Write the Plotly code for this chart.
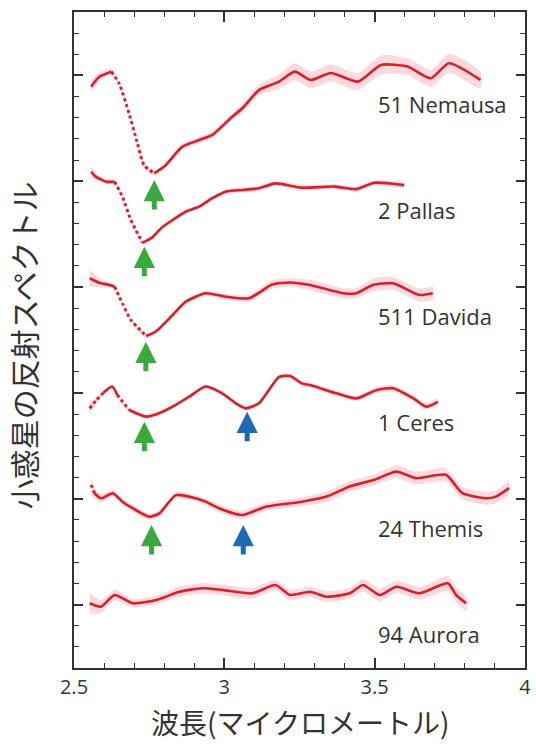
import plotly.graph_objects as go

# ---------------- data (wavelength in micrometres, relative reflectance) ----------------
names = ["51 Nemausa", "2 Pallas", "511 Davida", "1 Ceres", "24 Themis", "94 Aurora"]
offsets = [2.5, 2.0, 1.5, 1.0, 0.5, 0.0]

nemausa_x = [2.557, 2.584, 2.624, 2.65, 2.683, 2.711, 2.733, 2.767, 2.805, 2.838, 2.861, 2.916, 2.96,
             3.026, 3.06, 3.115, 3.182, 3.234, 3.288, 3.354, 3.444, 3.521, 3.609, 3.687, 3.747, 3.852]
nemausa_r = [0.947, 0.994, 1.018, 0.963, 0.821, 0.679, 0.576, 0.538, 0.576, 0.631, 0.664, 0.695, 0.719,
             0.805, 0.845, 0.931, 0.971, 1.018, 0.979, 1.012, 0.971, 1.05, 1.042, 0.987, 1.058, 0.979]
nemausa_e = [0.03, 0.02, 0.015, 0.012, 0.012, 0.012, 0.012, 0.012, 0.012, 0.015, 0.015, 0.015, 0.015,
             0.015, 0.02, 0.025, 0.035, 0.04, 0.04, 0.04, 0.04, 0.045, 0.04, 0.04, 0.045, 0.04]

pallas_x = [2.557, 2.572, 2.607, 2.635, 2.661, 2.689, 2.728, 2.761, 2.794, 2.828, 2.871, 2.916, 2.96,
            3.004, 3.06, 3.115, 3.17, 3.258, 3.366, 3.438, 3.499, 3.598]
pallas_r = [1.045, 1.022, 0.998, 0.998, 0.927, 0.817, 0.71, 0.736, 0.784, 0.817, 0.856, 0.88, 0.92,
            0.951, 0.959, 0.967, 0.99, 0.97, 0.975, 0.963, 0.993, 0.982]
pallas_e = [0.03, 0.015, 0.012, 0.01, 0.01, 0.01, 0.01, 0.01, 0.01, 0.01, 0.01, 0.01, 0.01,
            0.01, 0.012, 0.012, 0.012, 0.012, 0.012, 0.012, 0.012, 0.012]

davida_x = [2.552, 2.584, 2.618, 2.635, 2.661, 2.689, 2.74, 2.772, 2.828, 2.872, 2.938, 3.004, 3.082,
            3.159, 3.22, 3.285, 3.395, 3.439, 3.494, 3.561, 3.649, 3.693]
davida_r = [1.042, 1.021, 1.01, 1.002, 0.923, 0.845, 0.769, 0.79, 0.868, 0.931, 0.971, 0.955, 0.947,
            1.012, 1.022, 1.01, 0.971, 0.971, 1.01, 1.018, 0.963, 0.971]
davida_e = [0.04, 0.02, 0.012, 0.012, 0.01, 0.01, 0.01, 0.01, 0.01, 0.012, 0.012, 0.012, 0.015,
            0.02, 0.02, 0.025, 0.025, 0.025, 0.03, 0.03, 0.03, 0.03]

ceres_x = [2.552, 2.574, 2.596, 2.627, 2.644, 2.684, 2.74, 2.783, 2.828, 2.883, 2.938, 2.993, 3.038,
           3.071, 3.115, 3.148, 3.181, 3.219, 3.258, 3.285, 3.373, 3.439, 3.507, 3.561, 3.629, 3.671, 3.71]
ceres_r = [0.927, 0.965, 0.998, 1.03, 0.99, 0.919, 0.888, 0.904, 0.935, 0.982, 1.03, 0.998, 0.951,
           0.927, 0.951, 1.013, 1.075, 1.08, 1.045, 1.037, 0.998, 0.974, 1.014, 1.022, 0.974, 0.935, 0.958]
ceres_e = [0.03, 0.015, 0.01, 0.01, 0.01, 0.01, 0.01, 0.01, 0.01, 0.01, 0.01, 0.01, 0.01,
           0.01, 0.01, 0.01, 0.012, 0.012, 0.012, 0.012, 0.012, 0.012, 0.015, 0.015, 0.015, 0.015, 0.015]

themis_x = [2.557, 2.568, 2.59, 2.629, 2.661, 2.695, 2.751, 2.784, 2.839, 2.905, 2.938, 2.982, 3.06,
            3.137, 3.258, 3.34, 3.417, 3.496, 3.572, 3.638, 3.737, 3.792, 3.87, 3.903, 3.947]
themis_r = [1.065, 1.026, 1.002, 1.026, 0.986, 0.955, 0.915, 0.931, 1.017, 1.002, 0.986, 0.955, 0.923,
            0.962, 0.986, 1.01, 1.058, 1.088, 1.128, 1.097, 1.113, 1.026, 1.002, 1.01, 1.05]
themis_e = [0.04, 0.025, 0.02, 0.015, 0.015, 0.015, 0.015, 0.015, 0.015, 0.015, 0.015, 0.018, 0.02,
            0.02, 0.02, 0.025, 0.025, 0.025, 0.03, 0.03, 0.03, 0.03, 0.03, 0.03, 0.03]

aurora_x = [2.552, 2.59, 2.635, 2.695, 2.773, 2.85, 2.927, 2.993, 3.093, 3.17, 3.219, 3.285, 3.34,
            3.417, 3.461, 3.517, 3.572, 3.649, 3.743, 3.771, 3.804]
aurora_r = [1.006, 0.99, 1.045, 1.006, 1.021, 1.06, 1.077, 1.069, 1.053, 1.092, 1.045, 1.06, 1.037,
            1.053, 1.092, 1.045, 1.084, 1.053, 1.1, 1.045, 1.006]
aurora_e = [0.05, 0.03, 0.025, 0.02, 0.02, 0.025, 0.025, 0.025, 0.025, 0.025, 0.025, 0.025, 0.025,
            0.025, 0.03, 0.03, 0.03, 0.03, 0.035, 0.035, 0.035]

# wavelength ranges where the data points are sparse (drawn dotted)
dotted_ranges = [
    [(2.62, 2.77)],
    [(2.63, 2.73)],
    [(2.63, 2.745)],
    [(2.55, 2.60), (2.64, 2.69)],
    [(2.55, 2.57)],
    [],
]

# absorption-band arrows: (wavelength, stacked y of arrow tip, kind)
arrow_x = [2.767, 2.734, 2.739, 2.734, 3.076, 2.758, 3.063]
arrow_y = [2.006, 1.691, 1.242, 0.864, 0.911, 0.376, 0.376]
arrow_kind = ["green", "green", "green", "green", "blue", "green", "blue"]

label_x = 3.505
label_dy = -0.137

x_ticks = [2.5, 3, 3.5, 4]
x_tick_text = ["2.5", "3", "3.5", "4"]

x_title = "波長(マイクロメートル)"
y_title = "小惑星の反射スペクトル"

spectra_x = [nemausa_x, pallas_x, davida_x, ceres_x, themis_x, aurora_x]
spectra_r = [nemausa_r, pallas_r, davida_r, ceres_r, themis_r, aurora_r]
spectra_e = [nemausa_e, pallas_e, davida_e, ceres_e, themis_e, aurora_e]

# ---------------- figure ----------------
LINE = "rgb(214,32,44)"
BAND = "rgba(242,120,135,0.28)"
ARROW_COL = {"green": "rgb(58,170,60)", "blue": "rgb(30,105,180)"}
TXT = "#333333"

fig = go.Figure()


def segments(xs, ys, ranges):
    segs = []
    cur_x, cur_y, cur_d = [xs[0]], [ys[0]], None
    for i in range(len(xs) - 1):
        d = any(lo <= xs[i] and xs[i + 1] <= hi for lo, hi in ranges)
        if cur_d is None:
            cur_d = d
        if d != cur_d:
            segs.append((cur_x, cur_y, cur_d))
            cur_x, cur_y, cur_d = [xs[i]], [ys[i]], d
        cur_x.append(xs[i + 1])
        cur_y.append(ys[i + 1])
    segs.append((cur_x, cur_y, cur_d))
    return segs


for xs, rs, es, off, rng in zip(spectra_x, spectra_r, spectra_e, offsets, dotted_ranges):
    ys = [off + r - 1.0 for r in rs]
    up = [y + e for y, e in zip(ys, es)]
    lo = [y - e for y, e in zip(ys, es)]
    fig.add_trace(go.Scatter(
        x=xs + xs[::-1], y=up + lo[::-1], mode="lines", fill="toself",
        fillcolor=BAND, line=dict(width=0, shape="spline", smoothing=0.6),
        hoverinfo="skip", showlegend=False))
    for sx, sy, dotted in segments(xs, ys, rng):
        fig.add_trace(go.Scatter(
            x=sx, y=sy, mode="lines",
            line=dict(color=LINE, width=3 if dotted else 2.6,
                      dash="dot" if dotted else "solid",
                      shape="spline", smoothing=0.6),
            showlegend=False))

annotations = []
for name, off in zip(names, offsets):
    annotations.append(dict(
        x=label_x, y=off + label_dy, xref="x", yref="y", text=name, showarrow=False,
        xanchor="left", yanchor="middle",
        font=dict(family="Open Sans, sans-serif", size=22, color=TXT)))

for ax_, ay_, k in zip(arrow_x, arrow_y, arrow_kind):
    annotations.append(dict(
        x=ax_, y=ay_, xref="x", yref="y", text="", showarrow=True,
        ax=0, ay=31, axref="pixel", ayref="pixel",
        arrowhead=2, arrowsize=0.85, arrowwidth=5, arrowcolor=ARROW_COL[k], standoff=0))

annotations.append(dict(
    x=0.5, y=-0.082, xref="paper", yref="paper", text=x_title, showarrow=False,
    xanchor="center", yanchor="middle",
    font=dict(family="Noto Sans CJK JP", size=28, color=TXT)))
annotations.append(dict(
    x=-0.113, y=0.492, xref="paper", yref="paper", text=y_title, showarrow=False,
    xanchor="center", yanchor="middle", textangle=-90,
    font=dict(family="Noto Sans CJK JP", size=30, color=TXT)))

fig.update_layout(
    width=536, height=745,
    margin=dict(l=74, r=11, t=12, b=77, pad=0, autoexpand=False),
    paper_bgcolor="white", plot_bgcolor="white",
    annotations=annotations,
    showlegend=False,
)
fig.update_xaxes(
    range=[2.5, 4.0], tickvals=x_ticks, ticktext=x_tick_text, automargin=False,
    ticks="inside", ticklen=10, tickwidth=1.5, tickcolor="#333",
    minor=dict(dtick=0.1, tick0=2.5, ticks="inside", ticklen=5, tickwidth=1.2, tickcolor="#333"),
    showline=True, linecolor="#333", linewidth=1.6, mirror="ticks",
    showgrid=False, zeroline=False,
    tickfont=dict(family="Open Sans, sans-serif", size=20, color=TXT),
)
fig.update_yaxes(
    range=[-0.3, 2.8], tickvals=offsets, showticklabels=False, automargin=False,
    ticks="inside", ticklen=9, tickwidth=1.5, tickcolor="#333",
    minor=dict(dtick=0.1, tick0=0, ticks="inside", ticklen=5, tickwidth=1.2, tickcolor="#333"),
    showline=True, linecolor="#333", linewidth=1.6, mirror="ticks",
    showgrid=False, zeroline=False,
)

fig.write_html("out.html", config={"displayModeBar": False},
               post_script="document.body.style.margin='0';")
